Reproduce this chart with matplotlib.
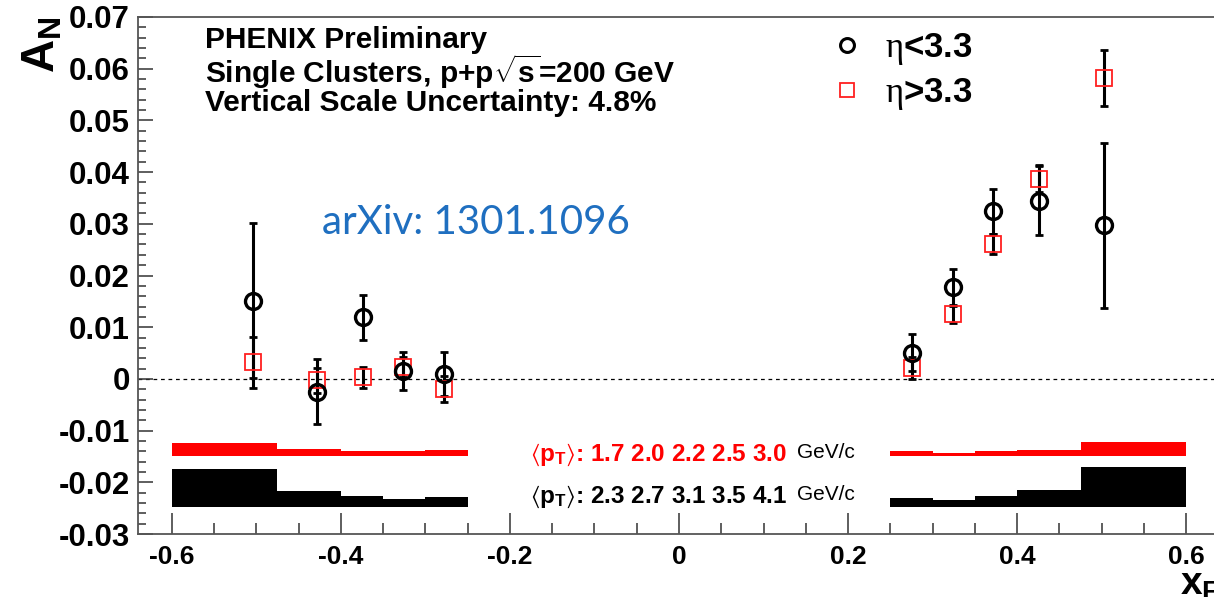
import matplotlib
matplotlib.use("Agg")
import matplotlib.pyplot as plt
from matplotlib.lines import Line2D
from matplotlib import font_manager as fm

names = {f.name for f in fm.fontManager.ttflist}
NARROW = 'Liberation Sans Narrow' if 'Liberation Sans Narrow' in names else 'Liberation Sans'

plt.rcParams['font.family'] = ['Liberation Sans', 'DejaVu Sans']
plt.rcParams['mathtext.fontset'] = 'custom'
plt.rcParams['mathtext.rm'] = 'Liberation Serif'
plt.rcParams['mathtext.default'] = 'regular'

# ---------------- data ----------------
x_neg = [-0.504, -0.428, -0.374, -0.326, -0.2785]
x_pos = [0.276, 0.3246, 0.372, 0.426, 0.503]

an_lo_neg = [0.0151, -0.0025, 0.0119, 0.0015, 0.0009]
err_lo_neg = [0.0150, 0.0063, 0.0043, 0.0037, 0.0043]
an_hi_neg = [0.0032, -0.0003, 0.0003, 0.0023, -0.0020]
err_hi_neg = [0.0050, 0.0025, 0.0020, 0.0020, 0.0025]

an_lo_pos = [0.0051, 0.0177, 0.0324, 0.0345, 0.0297]
err_lo_pos = [0.0036, 0.0036, 0.0044, 0.0066, 0.0159]
an_hi_pos = [0.0021, 0.0126, 0.0261, 0.0387, 0.0582]
err_hi_pos = [0.0022, 0.0017, 0.0019, 0.0026, 0.0054]

# systematic (pT) bands
edges_neg = [-0.6, -0.475, -0.4, -0.35, -0.3, -0.25]
edges_pos = [0.25, 0.3, 0.35, 0.4, 0.475, 0.6]
red_base = -0.0149
red_top_neg = [-0.0124, -0.0136, -0.0139, -0.0139, -0.0137]
red_top_pos = [-0.0139, -0.0143, -0.0139, -0.0137, -0.0122]
blk_base = -0.0247
blk_top_neg = [-0.0174, -0.0217, -0.0227, -0.0232, -0.0229]
blk_top_pos = [-0.0231, -0.0234, -0.0226, -0.0215, -0.0170]

pt_red = ['1.7', '2.0', '2.2', '2.5', '3.0']
pt_blk = ['2.3', '2.7', '3.1', '3.5', '4.1']

xticks = [-0.6, -0.4, -0.2, 0, 0.2, 0.4, 0.6]
xtick_labels = ['-0.6', '-0.4', '-0.2', '0', '0.2', '0.4', '0.6']
yticks = [-0.03, -0.02, -0.01, 0, 0.01, 0.02, 0.03, 0.04, 0.05, 0.06, 0.07]
ytick_labels = ['-0.03', '-0.02', '-0.01', '0', '0.01', '0.02', '0.03', '0.04', '0.05', '0.06', '0.07']

# ---------------- figure ----------------
W, H = 1214, 597
fig = plt.figure(figsize=(W / 100, H / 100), dpi=100)
ax = fig.add_axes([138 / W, 1 - 534 / H, (1220 - 138) / W, (534 - 17) / H])
ax.set_xlim(-0.64, 0.64)
ax.set_ylim(-0.03, 0.07)

for sp in ax.spines.values():
    sp.set_color('#555555')
    sp.set_linewidth(1.3)

# bands
def bands(edges, tops, base, color):
    lefts = edges[:-1]
    widths = [edges[i + 1] - edges[i] for i in range(len(edges) - 1)]
    heights = [t - base for t in tops]
    ax.bar(lefts, heights, width=widths, bottom=base, align='edge',
           color=color, edgecolor='none', linewidth=0, zorder=2)

bands(edges_neg, red_top_neg, red_base, '#ff0000')
bands(edges_pos, red_top_pos, red_base, '#ff0000')
bands(edges_neg, blk_top_neg, blk_base, 'black')
bands(edges_pos, blk_top_pos, blk_base, 'black')

# zero line
ax.axhline(0, color='black', lw=0.9, ls=(0, (3, 3)), zorder=1)

ekw = dict(fmt='none', ecolor='black', elinewidth=2.2, capsize=3.0, capthick=2.0, zorder=3)
ax.errorbar(x_neg + x_pos, an_hi_neg + an_hi_pos, yerr=err_hi_neg + err_hi_pos, **ekw)
ax.errorbar(x_neg + x_pos, an_lo_neg + an_lo_pos, yerr=err_lo_neg + err_lo_pos, **ekw)
ax.plot(x_neg + x_pos, an_hi_neg + an_hi_pos, ls='none', marker='s', ms=11,
        mfc='none', mec='#ff2020', mew=1.3, zorder=4)
ax.plot(x_neg + x_pos, an_lo_neg + an_lo_pos, ls='none', marker='o', ms=11.5,
        mfc='none', mec='black', mew=2.4, zorder=5)

# ticks
ax.set_xticks(xticks)
ax.set_xticklabels(xtick_labels)
ax.set_yticks(yticks)
ax.set_yticklabels(ytick_labels)
ax.set_xticks([v / 100 for v in range(-60, 61, 5)], minor=True)
ax.set_yticks([v / 1000 for v in range(-30, 71, 2)], minor=True)
ax.tick_params(axis='both', which='both', direction='in', color='#333333', width=1.1)
ax.tick_params(axis='y', which='major', length=11, pad=6)
ax.tick_params(axis='y', which='minor', length=6)
ax.tick_params(axis='x', which='major', length=15, pad=8)
ax.tick_params(axis='x', which='minor', length=8)
for lab in ax.get_yticklabels():
    lab.set_fontsize(22.5)
    lab.set_fontweight('bold')
for lab in ax.get_xticklabels():
    lab.set_fontsize(19)
    lab.set_fontweight('bold')
    lab.set_family([NARROW, 'Liberation Sans'])

# axis titles
fig.text(20 / W, 1 - 73 / H, r'A$_{\mathregular{N}}$', rotation=90, fontsize=33,
         fontweight='bold', ha='left', va='bottom', family=[NARROW, 'Liberation Sans'])
fig.text(1180 / W, 1 - 567 / H, r'x$_{\mathregular{F}}$', fontsize=28,
         fontweight='bold', ha='left', va='top', family=[NARROW, 'Liberation Sans'])

# header text
hdr = ['PHENIX Preliminary',
       r'Single Clusters, p+p$\sqrt{\mathregular{s}}$=200 GeV',
       'Vertical Scale Uncertainty: 4.8%']
for i, t in enumerate(hdr):
    fig.text(205 / W, 1 - (40 + 31.5 * i) / H, t, fontsize=21.5, fontweight='bold',
             ha='left', va='center', family=[NARROW, 'Liberation Sans'])

# legend
handles = [Line2D([], [], ls='none', marker='o', ms=10, mfc='none', mec='black', mew=2.2),
           Line2D([], [], ls='none', marker='s', ms=10, mfc='none', mec='#ff2020', mew=1.3)]
leg = ax.legend(handles, [r'$\mathrm{\eta}$<3.3', r'$\mathrm{\eta}$>3.3'],
                loc='upper left', bbox_to_anchor=((802 - 138) / (1220 - 138), 1 + 10 / (534 - 17)),
                frameon=False, handletextpad=0.5, labelspacing=0.25, handlelength=1.2,
                borderaxespad=0.3, prop={'size': 25, 'weight': 'bold'})

# arXiv
fig.text(322 / W, 1 - 222 / H, 'arXiv: 1301.1096', fontsize=29, color='#1f6fc0',
         family=['Lato', 'DejaVu Sans'], ha='left', va='center')

# pT labels
red_lbl = r'$\langle$p$_{\mathregular{T}}\rangle$: ' + ' '.join(pt_red)
blk_lbl = r'$\langle$p$_{\mathregular{T}}\rangle$: ' + ' '.join(pt_blk)
fig.text(530 / W, 1 - 455 / H, red_lbl, fontsize=17.5, fontweight='bold', color='#ff0000',
         ha='left', va='center', family=[NARROW, 'Liberation Sans'])
fig.text(797 / W, 1 - 453 / H, 'GeV/c', fontsize=15, color='black', ha='left', va='center',
         family=[NARROW, 'Liberation Sans'])
fig.text(530 / W, 1 - 497 / H, blk_lbl, fontsize=17.5, fontweight='bold', color='black',
         ha='left', va='center', family=[NARROW, 'Liberation Sans'])
fig.text(797 / W, 1 - 495 / H, 'GeV/c', fontsize=15, color='black', ha='left', va='center',
         family=[NARROW, 'Liberation Sans'])

fig.savefig('out.png', dpi=100)
